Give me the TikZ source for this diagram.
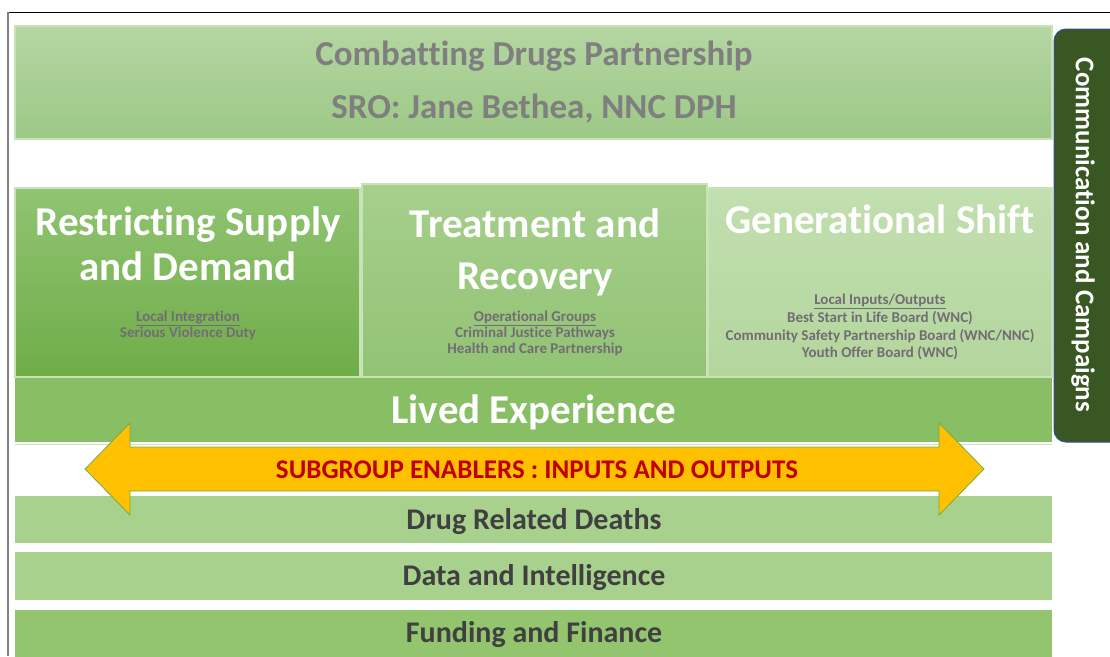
\documentclass[tikz,border=0pt]{standalone}
\usepackage{fontspec}
\setmainfont{Carlito}[Ligatures={NoCommon,NoRequired,NoContextual}]
\definecolor{bannerTop}{HTML}{B5D6A2}
\definecolor{bannerBot}{HTML}{9CC886}
\definecolor{rsTop}{HTML}{90C472}
\definecolor{rsBot}{HTML}{6FAD48}
\definecolor{trTop}{HTML}{A6CF8C}
\definecolor{trBot}{HTML}{92C374}
\definecolor{gsTop}{HTML}{C2DFAF}
\definecolor{gsBot}{HTML}{B3D69D}
\definecolor{lived}{HTML}{88BE64}
\definecolor{barlight}{HTML}{A9D18E}
\definecolor{bardark}{HTML}{93C56E}
\definecolor{tab}{HTML}{385723}
\definecolor{tabedge}{HTML}{2F528F}
\definecolor{arrowfill}{HTML}{FFC000}
\definecolor{arrowedge}{HTML}{70AD47}
\definecolor{arrowtext}{HTML}{C00000}
\definecolor{bannertext}{HTML}{7F7F7F}
\definecolor{subtext}{HTML}{736C74}
\definecolor{bartext}{HTML}{404040}
\definecolor{bevel}{HTML}{C9E3B8}
\begin{document}
\begin{tikzpicture}[x=1pt,y=-1pt,
  lbl/.style={inner sep=0pt, anchor=base, font=\bfseries},
  titletxt/.style={lbl, text=white, font=\fontsize{41}{45}\selectfont\bfseries},
  subtxt/.style={lbl, text=subtext, font=\fontsize{15}{16}\selectfont\bfseries},
  gsubtxt/.style={lbl, text=subtext, font=\fontsize{15}{18}\selectfont\bfseries},
  bannertxt/.style={lbl, text=bannertext, font=\fontsize{35}{40}\selectfont\bfseries},
  bartxt/.style={lbl, text=bartext, font=\fontsize{30}{32}\selectfont\bfseries},
  panel/.style={draw=bevel, line width=1.5pt}]
\useasboundingbox (0,0) rectangle (1110,656);
\clip (0,0) rectangle (1110,656);
\fill[white] (0,0) rectangle (1110,656);
% frame
\draw[black, line width=1pt] (8,12) -- (1110,12);
\draw[gray, line width=2pt] (8,12) -- (8,656);
% banner
\shade[top color=bannerTop, bottom color=bannerBot] (15,26) rectangle (1052,139);
\draw[panel] (15,26) rectangle (1052,139);
\node[bannertxt] (ban1) at (534,65) {Combatting Drugs Partnership};
\node[bannertxt] (ban2) at (534,118) {SRO: Jane Bethea, NNC DPH};
% communication tab
\draw[fill=tab, draw=tabedge, line width=1pt, rounded corners=12pt] (1125,29) -- (1054,29) -- (1054,442) -- (1125,442);
\node[inner sep=0pt, rotate=-90, text=white, font=\fontsize{27}{30}\selectfont\bfseries] (comm) at (1083,235) {Communication and Campaigns};
% three pillars
\shade[top color=rsTop, bottom color=rsBot] (15,188) rectangle (360,377);
\draw[panel] (15,188) rectangle (360,377);
\shade[top color=trTop, bottom color=trBot] (362,184) rectangle (707,377);
\draw[panel] (362,184) rectangle (707,377);
\shade[top color=gsTop, bottom color=gsBot] (708,188) rectangle (1052,377);
\draw[panel] (708,188) rectangle (1052,377);
\node[titletxt] (rs1) at (188,235) {Restricting Supply};
\node[titletxt] (rs2) at (188,280) {and Demand};
\node[subtxt] (rs3) at (188,321) {\underline{Local Integration}};
\node[subtxt] (rs4) at (188,337) {Serious Violence Duty};
\node[titletxt] (tr1) at (535,237) {Treatment and};
\node[titletxt] (tr2) at (535,289) {Recovery};
\node[subtxt] (tr3) at (535,321) {\underline{Operational Groups}};
\node[subtxt] (tr4) at (535,337) {Criminal Justice Pathways};
\node[subtxt] (tr5) at (535,353) {Health and Care Partnership};
\node[titletxt] (gs1) at (880,233) {Generational Shift};
\node[gsubtxt] (gs2) at (880,304) {\underline{Local Inputs/Outputs}};
\node[gsubtxt] (gs3) at (880,322) {Best Start in Life Board (WNC)};
\node[gsubtxt] (gs4) at (880,340) {Community Safety Partnership Board (WNC/NNC)};
\node[gsubtxt] (gs5) at (880,357.5) {Youth Offer Board (WNC)};
% lived experience
\fill[lived] (15,378) rectangle (1052,442);
\draw[bevel, line width=1.5pt] (15,444.5) -- (1052,444.5);
\node[titletxt, font=\fontsize{41}{44}\selectfont\bfseries] (lived) at (534,423) {Lived Experience};
% enabler bars
\fill[barlight] (15,496) rectangle (1052,543);
\fill[barlight] (15,552) rectangle (1052,600);
\fill[bardark] (15,610) rectangle (1052,660);
\node[bartxt] (drd) at (534,529) {Drug Related Deaths};
\node[bartxt] (dai) at (534,585) {Data and Intelligence};
\node[bartxt] (faf) at (534,642) {Funding and Finance};
% double arrow
\coordinate (ltip) at (85,469);
\coordinate (rtip) at (984,469);
\draw[fill=arrowfill, draw=arrowedge, line width=0.8pt]
  (ltip) -- (130,423) -- (130,447) -- (939,447) -- (939,423) -- (rtip)
  -- (939,515) -- (939,491) -- (130,491) -- (130,515) -- cycle;
\node[lbl, text=arrowtext, font=\fontsize{27}{30}\selectfont\bfseries] (sub) at (537,478.5) {SUBGROUP ENABLERS : INPUTS AND OUTPUTS};
\end{tikzpicture}
\end{document}
